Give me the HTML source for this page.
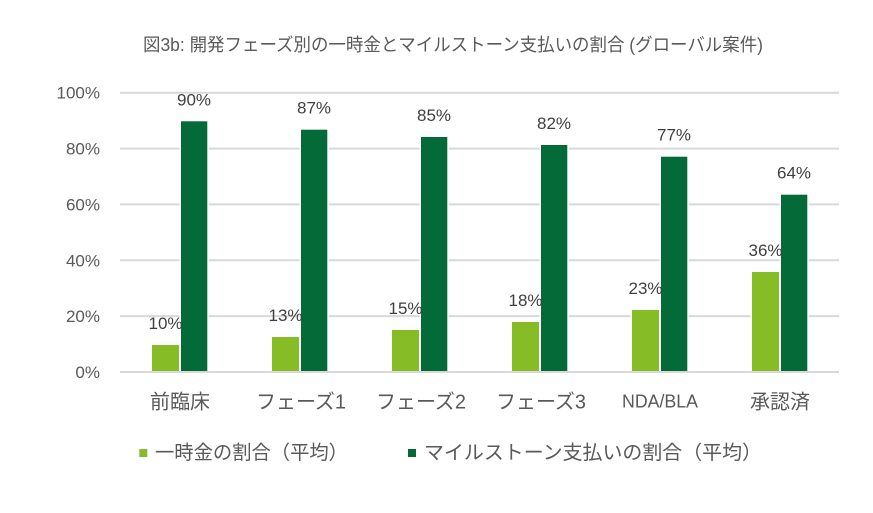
<!DOCTYPE html>
<html><head><meta charset="utf-8"><style>
html,body{margin:0;padding:0;background:#fff;}
svg{display:block;}
</style></head><body>
<svg width="873" height="513" viewBox="0 0 873 513" xmlns="http://www.w3.org/2000/svg">
<rect width="873" height="513" fill="#fff"/>
<text x="143" y="51" font-family="'Liberation Sans','Noto Sans CJK JP',sans-serif" font-size="18" fill="#595959" textLength="620" lengthAdjust="spacingAndGlyphs">図3b: 開発フェーズ別の一時金とマイルストーン支払いの割合 (グローバル案件)</text>
<g stroke="#d9d9d9" stroke-width="2">
<line x1="120" y1="92.7" x2="839" y2="92.7"/>
<line x1="120" y1="148.6" x2="839" y2="148.6"/>
<line x1="120" y1="204.4" x2="839" y2="204.4"/>
<line x1="120" y1="260.3" x2="839" y2="260.3"/>
<line x1="120" y1="316.1" x2="839" y2="316.1"/>
</g>
<g font-family="'Liberation Sans',sans-serif" font-size="17" fill="#595959" text-anchor="end">
<text x="100" y="98.7">100%</text>
<text x="100" y="154.6">80%</text>
<text x="100" y="210.4">60%</text>
<text x="100" y="266.3">40%</text>
<text x="100" y="322.1">20%</text>
<text x="100" y="378">0%</text>
</g>
<g fill="#fff">
<rect x="150.5" y="343.5" width="30" height="28"/>
<rect x="179.5" y="119.8" width="29.3" height="252"/>
<rect x="270.5" y="335.5" width="30" height="36"/>
<rect x="299.5" y="128.2" width="29.3" height="244"/>
<rect x="390.5" y="328.5" width="30" height="43"/>
<rect x="419.5" y="135.5" width="29.3" height="236"/>
<rect x="510.5" y="320.5" width="30" height="51"/>
<rect x="539.5" y="143.5" width="29.3" height="228"/>
<rect x="630.5" y="308.5" width="30" height="63"/>
<rect x="659.5" y="155.2" width="29.3" height="216"/>
<rect x="750.5" y="270.5" width="30" height="101"/>
<rect x="779.5" y="193.2" width="29.3" height="178"/>
</g>
<g fill="#86bc25">
<rect x="152" y="345" width="27" height="26"/>
<rect x="272" y="337" width="27" height="34"/>
<rect x="392" y="330" width="27" height="41"/>
<rect x="512" y="322" width="27" height="49"/>
<rect x="632" y="310" width="27" height="61"/>
<rect x="752" y="272" width="27" height="99"/>
</g>
<g fill="#046a38">
<rect x="181" y="121.3" width="26.3" height="249.7"/>
<rect x="301" y="129.7" width="26.3" height="241.3"/>
<rect x="421" y="137" width="26.3" height="234"/>
<rect x="541" y="145" width="26.3" height="226"/>
<rect x="661" y="156.7" width="26.3" height="214.3"/>
<rect x="781" y="194.7" width="26.3" height="176.3"/>
</g>
<line x1="120" y1="372" x2="839" y2="372" stroke="#d9d9d9" stroke-width="2"/>
<g font-family="'Liberation Sans',sans-serif" font-size="17" fill="#404040" text-anchor="middle">
<text x="165.5" y="329">10%</text>
<text x="285.5" y="321">13%</text>
<text x="405.5" y="314">15%</text>
<text x="525.5" y="306">18%</text>
<text x="645.5" y="294">23%</text>
<text x="765.5" y="256">36%</text>
<text x="194" y="105.3">90%</text>
<text x="314" y="113.7">87%</text>
<text x="434" y="121">85%</text>
<text x="554" y="129">82%</text>
<text x="674" y="140.7">77%</text>
<text x="794" y="178.7">64%</text>
</g>
<g font-family="'Liberation Sans','Noto Sans CJK JP',sans-serif" font-size="20" fill="#595959" text-anchor="middle">
<text x="180" y="408.5">前臨床</text>
<text x="301" y="408.5" textLength="90" lengthAdjust="spacingAndGlyphs">フェーズ1</text>
<text x="421" y="408.5" textLength="90" lengthAdjust="spacingAndGlyphs">フェーズ2</text>
<text x="541" y="408.5" textLength="90" lengthAdjust="spacingAndGlyphs">フェーズ3</text>
<text x="660" y="407.5" font-size="18" textLength="76" lengthAdjust="spacingAndGlyphs">NDA/BLA</text>
<text x="780" y="408.5">承認済</text>
</g>
<rect x="139.3" y="449" width="8" height="8" fill="#86bc25"/>
<text x="155" y="459" font-family="'Liberation Sans','Noto Sans CJK JP',sans-serif" font-size="19.5" fill="#595959" textLength="193" lengthAdjust="spacingAndGlyphs">一時金の割合（平均）</text>
<rect x="408" y="449" width="8" height="8" fill="#046a38"/>
<text x="424" y="459" font-family="'Liberation Sans','Noto Sans CJK JP',sans-serif" font-size="19.5" fill="#595959" textLength="338" lengthAdjust="spacingAndGlyphs">マイルストーン支払いの割合（平均）</text>
</svg>
</body></html>
